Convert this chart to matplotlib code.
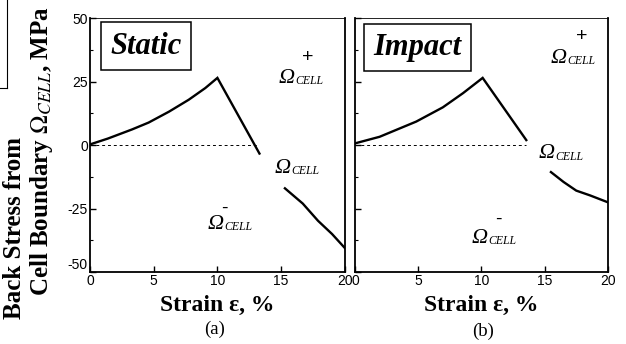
import matplotlib.pyplot as plt

# Back stress from cell boundary vs strain
static_x1 = [0, 1.4, 3.3, 4.6, 6.2, 7.75, 9.05, 10.0, 13.3]
static_y1 = [0.3, 2.6, 6.2, 8.9, 13.2, 17.9, 22.5, 26.5, -3.3]
static_x2 = [15.3, 16.7, 17.9, 19, 20]
static_y2 = [-17, -23, -29.8, -35, -40.5]

impact_x1 = [0, 1.95, 4.85, 6.95, 8.55, 10.1, 13.55]
impact_y1 = [0.7, 3.3, 9.3, 14.9, 20.5, 26.5, 2.0]
impact_x2 = [15.5, 16.5, 17.5, 18.6, 20]
impact_y2 = [-10.6, -14.5, -17.9, -19.8, -22.5]

xticks = [0, 5, 10, 15, 20]
yticks = [-50, -25, 0, 25, 50]

plt.rcParams['font.family'] = 'Liberation Serif'
plt.rcParams['mathtext.fontset'] = 'stix'

fig = plt.figure(figsize=(6.26, 3.44), dpi=100)
ax1 = fig.add_axes([0.1438, 0.209, 0.407, 0.738])
ax2 = fig.add_axes([0.567, 0.209, 0.404, 0.738])


def omega(ax, x, y, sign=None, sdx=21, sdy=18):
    ax.text(x, y, 'Ω', fontsize=16, style='italic', va='baseline')
    ax.annotate('CELL', (x, y), xytext=(12, -1), textcoords='offset points',
                fontsize=8.5, style='italic', va='baseline')
    if sign:
        ax.annotate(sign, (x, y), xytext=(sdx, sdy), textcoords='offset points',
                    fontsize=14, va='center', ha='center',
                    family='Liberation Sans')


for ax, title, bx, by, xs1, ys1, xs2, ys2, dash_end in [
        (ax1, 'Static', 0.22, 0.89, static_x1, static_y1, static_x2, static_y2, 13.3),
        (ax2, 'Impact', 0.247, 0.884, impact_x1, impact_y1, impact_x2, impact_y2, 13.55)]:
    ax.plot(xs1, ys1, color='black', lw=1.7, solid_joinstyle='miter')
    ax.plot(xs2, ys2, color='black', lw=1.7)
    ax.plot([0, dash_end], [0, 0], color='black', lw=0.7, ls=(0, (3, 3)))
    ax.set_xlim(0, 20)
    ax.set_ylim(-50, 50)
    ax.set_xticks(xticks)
    ax.set_yticks(yticks)
    ax.set_yticks([-37.5, -12.5, 12.5, 37.5], minor=True)
    ax.tick_params(direction='in', length=4, width=1, labelsize=10, pad=1.5,
                   labelfontfamily='Liberation Sans')
    ax.tick_params(which='minor', direction='in', length=2.5, width=0.8)
    for s in ax.spines.values():
        s.set_linewidth(1.3)
    ax.spines['top'].set_linewidth(0.6)
    ax.text(bx, by, title, transform=ax.transAxes, fontsize=22,
            weight='bold', style='italic', va='center', ha='center',
            bbox=dict(boxstyle='square,pad=0.3', fc='white', ec='black', lw=1.1))
    ax.set_xlabel('Strain ε, %', fontsize=17, weight='bold', labelpad=5)

ax1.set_yticklabels(['-50', '-25', '0', '25', '50'])
ax1.get_yticklabels()[0].set_va('bottom')
ax2.set_yticklabels([])

omega(ax1, 14.8, 24.6, '+')
omega(ax1, 14.5, -11)
omega(ax1, 9.2, -33, '-', 12, 15)

omega(ax2, 15.5, 32.5, '+', 22, 19)
omega(ax2, 14.5, -5.2)
omega(ax2, 9.25, -38.5, '-', 19, 17)

fig.text(215 / 626, 1 - 334 / 344, '(a)', fontsize=13.5, ha='center')
fig.text(483 / 626, 1 - 336 / 344, '(b)', fontsize=13.5, ha='center')

fig.text(15 / 626, 1 - 228 / 344, 'Back Stress from', rotation=90,
         fontsize=18, weight='bold', ha='center', va='center')
fig.text(42 / 626, 1 - 151 / 344,
         'Cell Boundary $\\mathit{\\Omega}_{\\mathit{CELL}}$, MPa',
         rotation=90, fontsize=18, weight='bold', ha='center', va='center')

# bit of a neighbouring frame at the top left
fig.add_artist(plt.Line2D([7 / 626, 7 / 626], [1, 1 - 88 / 344],
                          color='black', lw=0.8))
fig.add_artist(plt.Line2D([0, 7 / 626], [1 - 88 / 344, 1 - 88 / 344],
                          color='black', lw=0.8))

fig.savefig('out.png', dpi=100)
